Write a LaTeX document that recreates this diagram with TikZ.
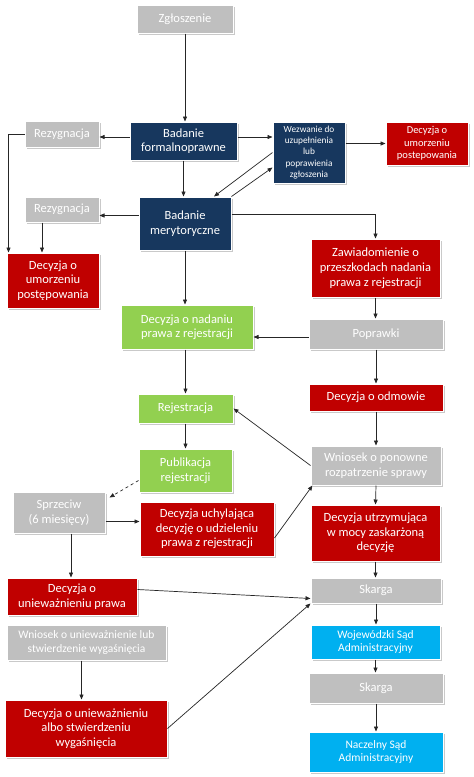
\documentclass[tikz,border=0pt]{standalone}
\usepackage{fontspec}
\setmainfont{Carlito}
\usepackage{tikz}
\usetikzlibrary{arrows.meta}
\usetikzlibrary{shadows}
\usepackage{xcolor}

\definecolor{szary}{HTML}{BFBFBF}
\definecolor{granat}{HTML}{17375E}
\definecolor{czerwony}{HTML}{C00000}
\definecolor{zielony}{HTML}{92D050}
\definecolor{niebieski}{HTML}{00B0F0}

\begin{document}
\begin{tikzpicture}[x=1pt, y=-1pt,
  box/.style={rectangle, draw=white, line width=1pt, text=white, align=center, inner sep=1pt,
    font=\fontsize{12.5}{14.5}\selectfont,
    drop shadow={shadow xshift=1.5pt, shadow yshift=-1.5pt, fill=black!35, opacity=0.6}},
  grey/.style={box, fill=szary},
  navy/.style={box, fill=granat},
  red/.style={box, fill=czerwony},
  green/.style={box, fill=zielony},
  blue/.style={box, fill=niebieski},
  smaller/.style={font=\fontsize{11.5}{13.5}\selectfont},
  arr/.style={-{Triangle[length=5pt, width=4pt]}, line width=0.7pt, draw=black!85}]
  \useasboundingbox[fill=white] (0,0) rectangle (474,777);

  % left and middle column
  \node (zgl) [grey, minimum width=96, minimum height=28] at (185,19) {Zgłoszenie};
  \node (bf) [navy, minimum width=107, minimum height=38] at (183.5,141) {Badanie\\formalnoprawne};
  \node (rez1) [grey, minimum width=74, minimum height=26] at (62,134) {Rezygnacja};
  \node (wez) [navy, minimum width=72, minimum height=61, font=\fontsize{9.3}{11.3}\selectfont] at (309,152.5) {Wezwanie do\\uzupełnienia\\lub\\poprawienia\\zgłoszenia};
  \node (dum1) [red, minimum width=82, minimum height=43, font=\fontsize{10.5}{12.5}\selectfont] at (427,143.5) {Decyzja o\\umorzeniu\\postepowania};
  \node (bm) [navy, minimum width=92, minimum height=53] at (185,223.5) {Badanie\\merytoryczne};
  \node (rez2) [grey, minimum width=74, minimum height=25] at (62,209.5) {Rezygnacja};
  \node (dum2) [red, minimum width=92, minimum height=55] at (53,280.5) {Decyzja o\\umorzeniu\\postępowania};
  \node (dn) [green, minimum width=132, minimum height=44] at (187,327) {Decyzja o nadaniu\\prawa z rejestracji};
  \node (rej) [green, minimum width=95, minimum height=29] at (185.5,408.5) {Rejestracja};
  \node (pub) [green, minimum width=93, minimum height=43] at (185.5,470.5) {Publikacja\\rejestracji};
  \node (spr) [grey, minimum width=92, minimum height=41] at (59,512.5) {Sprzeciw\\(6 miesięcy)};
  \node (uch) [red, minimum width=134, minimum height=54] at (207,529) {Decyzja uchylająca\\decyzję o udzieleniu\\prawa z rejestracji};
  \node (unp) [red, minimum width=130, minimum height=37] at (72,596.5) {Decyzja o\\unieważnieniu prawa};
  \node (wnu) [grey, smaller, minimum width=159, minimum height=35] at (86.5,642.5) {Wniosek o unieważnienie lub\\stwierdzenie wygaśnięcia};
  \node (dua) [red, minimum width=162, minimum height=57] at (86,728.5) {Decyzja o unieważnieniu\\albo stwierdzeniu\\wygaśnięcia};

  % right column
  \node (zaw) [red, minimum width=129, minimum height=58, font=\fontsize{12.5}{15}\selectfont] at (375.5,268) {Zawiadomienie o\\przeszkodach nadania\\prawa z rejestracji};
  \node (pop) [grey, minimum width=134, minimum height=30] at (376,334) {Poprawki};
  \node (odm) [red, minimum width=134, minimum height=27] at (376,397.5) {Decyzja o odmowie};
  \node (wni) [grey, minimum width=130, minimum height=39] at (376,465.5) {Wniosek o ponowne\\rozpatrzenie sprawy};
  \node (utr) [red, minimum width=129, minimum height=56] at (375.5,533) {Decyzja utrzymująca\\w mocy zaskarżoną\\decyzję};
  \node (sk1) [grey, minimum width=130, minimum height=25] at (376,590.5) {Skarga};
  \node (wsa) [blue, smaller, minimum width=129, minimum height=34] at (375.5,642) {Wojewódzki Sąd\\Administracyjny};
  \node (sk2) [grey, minimum width=134, minimum height=30] at (376,688) {Skarga};
  \node (nsa) [blue, smaller, minimum width=134, minimum height=40] at (376,752) {Naczelny Sąd\\Administracyjny};

  % connectors
  \draw[arr] (zgl.south) -- (zgl.south |- bf.north);
  \draw[arr] ([yshift=4]bf.west) -- ([yshift=4]bf.west -| rez1.east);
  \draw[arr] ([yshift=4]bf.east) -- ([yshift=4]bf.east -| wez.west);
  \draw[arr] (wez.east |- dum1.west) -- (dum1.west);
  \draw[arr] (bf.south) -- (bf.south |- bm.north);
  \draw[arr] (wez.west) -- ([xshift=29]bm.north);
  \draw[arr] (bm.north east) -- ([yshift=-15]wez.west);
  \draw[arr] (rez1.west) -| ([xshift=2]dum2.north west);
  \draw[arr] ([xshift=-20]rez2.south) -- ([xshift=-20]rez2.south |- dum2.north);
  \draw[arr] ([yshift=8]bm.west) -- ([yshift=8]bm.west -| rez2.east);
  \draw[arr] ([yshift=9]bm.east) -| (zaw.north);
  \draw[arr] (bm.south) -- (bm.south |- dn.north);
  \draw[arr] (zaw.south) -- (zaw.south |- pop.north);
  \draw[arr] ([yshift=-3]pop.west) -- ([yshift=-3]pop.west -| dn.east);
  \draw[arr] (pop.south) -- (odm.north);
  \draw[arr] (dn.south -| rej.north) -- (rej.north);
  \draw[arr] (odm.south) -- (wni.north);
  \draw[arr] (wni.west) -- (rej.east);
  \draw[arr] (rej.south) -- (pub.north);
  \draw[arr] (wni.south) -- (utr.north);
  \draw[arr, dashed] ([yshift=-10]pub.west) -- ([xshift=4, yshift=-6]spr.north east);
  \draw[arr] ([yshift=-9]spr.east) -- ([yshift=-9]spr.east -| uch.west);
  \draw[arr] ([yshift=-9]uch.east) -- ([xshift=2]wni.south west);
  \draw[arr] ([xshift=12]spr.south) -- ([xshift=12]spr.south |- unp.north);
  \draw[arr] (utr.south) -- (utr.south |- sk1.north);
  \draw[arr] ([yshift=7]unp.east) -- ([yshift=-8]sk1.west);
  \draw[arr] ([xshift=-5]wnu.south) -- ([xshift=-5]wnu.south |- dua.north);
  \draw[arr] (dua.east) -- (sk1.south west);
  \draw[arr] (sk1.south) -- (sk1.south |- wsa.north);
  \draw[arr] (wsa.south) -- (wsa.south |- sk2.north);
  \draw[arr] (sk2.south) -- (sk2.south |- nsa.north);
\end{tikzpicture}
\end{document}
